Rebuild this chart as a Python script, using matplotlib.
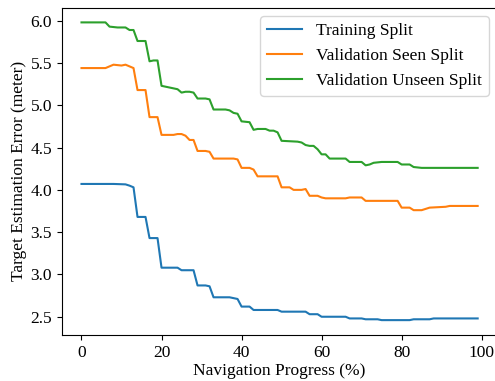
import matplotlib
matplotlib.use("Agg")
import matplotlib.pyplot as plt

plt.rcParams['font.family'] = ['Liberation Serif', 'DejaVu Serif']
plt.rcParams['mathtext.fontset'] = 'stix'

labels = ["Training Split", "Validation Seen Split", "Validation Unseen Split"]

train_x = [0, 8, 11, 12, 13, 14, 16, 17, 19, 20, 24, 25, 28, 29, 31, 32, 33, 37, 38, 39,
           40, 42, 43, 49, 50, 56, 57, 59, 60, 66, 67, 70, 71, 74, 75, 82, 83, 87, 88, 99]
train_y = [4.07, 4.07, 4.065, 4.05, 4.03, 3.68, 3.68, 3.43, 3.43, 3.08, 3.08, 3.05, 3.05, 2.87, 2.87, 2.86, 2.73, 2.73, 2.72, 2.71,
           2.62, 2.62, 2.58, 2.58, 2.56, 2.56, 2.53, 2.53, 2.50, 2.50, 2.48, 2.48, 2.47, 2.47, 2.46, 2.46, 2.47, 2.47, 2.48, 2.48]

seen_x = [0, 6, 7, 8, 10, 11, 12, 13, 14, 16, 17, 19, 20, 23, 24, 25, 26, 27, 28, 29, 31, 32, 33, 38, 39,
          40, 42, 43, 44, 49, 50, 52, 53, 55, 56, 57, 59, 60, 61, 66, 67, 70, 71, 79, 80, 82, 83, 85, 87, 91, 92, 99]
seen_y = [5.44, 5.44, 5.46, 5.48, 5.47, 5.48, 5.46, 5.44, 5.18, 5.18, 4.86, 4.86, 4.65, 4.65, 4.66, 4.66, 4.64, 4.59, 4.59, 4.46, 4.46, 4.45, 4.37, 4.37, 4.36,
          4.26, 4.26, 4.24, 4.16, 4.16, 4.03, 4.03, 4.00, 4.00, 4.01, 3.93, 3.93, 3.91, 3.90, 3.90, 3.91, 3.91, 3.87, 3.87, 3.79, 3.79, 3.76, 3.76, 3.79, 3.80, 3.81, 3.81]

unseen_x = [0, 6, 7, 9, 11, 12, 13, 14, 16, 17, 18, 19, 20, 22, 23, 24, 25, 26, 27, 28, 29, 31, 32, 33, 36, 37, 38, 39,
            40, 42, 43, 44, 46, 47, 48, 49, 50, 54, 55, 56, 57, 58, 59, 60, 61, 62, 66, 67, 70, 71, 72, 73, 75, 79, 80, 82, 83, 85, 99]
unseen_y = [5.98, 5.98, 5.93, 5.92, 5.92, 5.89, 5.89, 5.76, 5.76, 5.52, 5.53, 5.53, 5.23, 5.21, 5.20, 5.19, 5.15, 5.16, 5.16, 5.15, 5.08, 5.08, 5.07, 4.95, 4.95, 4.94, 4.91, 4.90,
            4.81, 4.80, 4.71, 4.72, 4.72, 4.70, 4.70, 4.68, 4.58, 4.57, 4.56, 4.53, 4.52, 4.52, 4.48, 4.42, 4.42, 4.37, 4.37, 4.33, 4.33, 4.29, 4.30, 4.32, 4.33, 4.33, 4.30, 4.30, 4.27, 4.26, 4.26]

fig = plt.figure(figsize=(4.95, 3.81), dpi=100)
ax = fig.add_axes([0.1246, 0.1207, 0.8804, 0.8596])
ax.plot(train_x, train_y, color='#1f77b4', lw=1.5, label=labels[0])
ax.plot(seen_x, seen_y, color='#ff7f0e', lw=1.5, label=labels[1])
ax.plot(unseen_x, unseen_y, color='#2ca02c', lw=1.5, label=labels[2])

ax.set_xticks([0, 20, 40, 60, 80, 100])
ax.set_yticks([2.5, 3.0, 3.5, 4.0, 4.5, 5.0, 5.5, 6.0])
ax.tick_params(labelsize=12.5)
ax.set_xlabel("Navigation Progress (%)", fontsize=12.5, labelpad=1.5)
ax.set_ylabel("Target Estimation Error (meter)", fontsize=12.5, labelpad=2.5)
ax.legend(loc='upper right', fontsize=12.5)

fig.savefig("out.png", dpi=100)
